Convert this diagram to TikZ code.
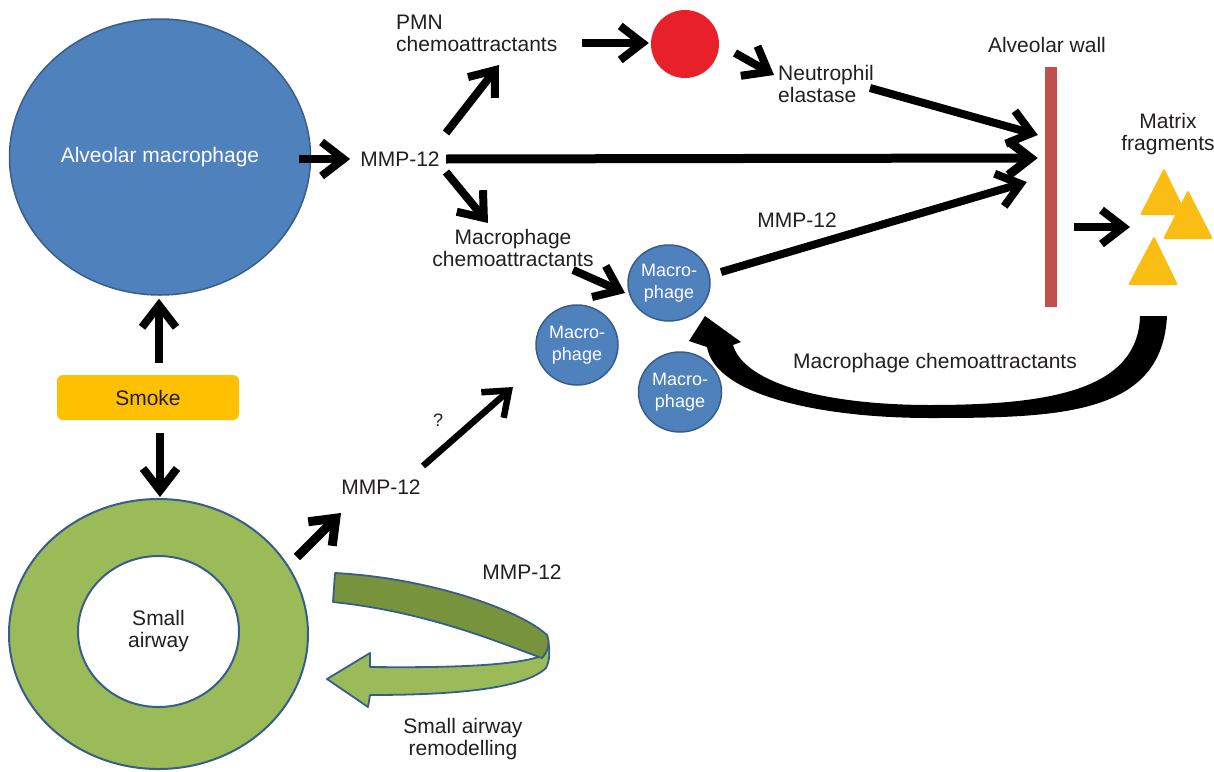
\documentclass[tikz,border=0pt]{standalone}
\usepackage{fontspec}
\setmainfont{Liberation Sans}
\usetikzlibrary{arrows.meta,shapes.geometric,calc}
\definecolor{cblue}{HTML}{4F81BD}
\definecolor{cbluedk}{HTML}{385D8A}
\definecolor{cred}{HTML}{E8202A}
\definecolor{cgreen}{HTML}{9BBB59}
\definecolor{cgreendk}{HTML}{77933C}
\definecolor{cyellow}{HTML}{FFC000}
\definecolor{ctri}{HTML}{FABD14}
\definecolor{cwall}{HTML}{C0504D}
\definecolor{ctext}{HTML}{231F20}
\begin{document}
\begin{tikzpicture}[x=1pt,y=-1pt,
  txt/.style={inner sep=0pt, text=ctext, font=\fontsize{21}{22}\selectfont},
  cell/.style={ellipse, draw=cbluedk, line width=1.5pt, fill=cblue, inner sep=0pt, text=white, align=center},
  smallcell/.style={cell, font=\fontsize{18}{22}\selectfont},
  arr/.style={line width=8pt, -{Straight Barb[length=22pt,width=34pt]}},
  tri/.style={fill=ctri, rounded corners=1.5pt}]
\fill[white] (0,0) rectangle (1214,771);
\useasboundingbox (0,0) rectangle (1214,771);

% main nodes
\node[cell, minimum width=301pt, minimum height=276pt, font=\fontsize{21}{22}\selectfont] (am) at (160,157) {Alveolar macrophage};
\node[rectangle, rounded corners=6pt, fill=cyellow, minimum width=182pt, minimum height=45pt, txt] (smoke) at (148,397.5) {Smoke};
\node[ellipse, draw=cbluedk, line width=2pt, fill=cgreen, minimum width=299pt, minimum height=270pt] (ring) at (158.5,634) {};
\node[ellipse, draw=cbluedk, line width=2pt, fill=white, minimum width=161pt, minimum height=151pt, txt, align=center] (lumen) at (158.5,631.5) {Small\\airway};

\node[txt] (mmp1) at (400,159) {MMP-12};
\node[txt, anchor=west, align=left] (pmn) at (396,33) {PMN\\chemoattractants};
\node[circle, fill=cred, minimum size=68pt, inner sep=0pt] (red) at (685,44) {};
\node[txt, anchor=west, align=left] (ne) at (778,84) {Neutrophil\\elastase};
\node[fill=cwall, minimum width=12pt, minimum height=240pt, inner sep=0pt] (wall) at (1051,187) {};
\node[txt] (awl) at (1047,45) {Alveolar wall};
\node[txt, align=center] (mf) at (1168,134) {Matrix\\fragments};
\node[txt, align=center] (mc) at (513,248) {Macrophage\\chemoattractants};

\node[smallcell, minimum width=82pt, minimum height=76pt] (m1) at (669,283) {Macro-\\phage};
\node[smallcell, minimum width=82pt, minimum height=80pt] (m2) at (577,345) {Macro-\\phage};
\node[smallcell, minimum width=83pt, minimum height=80pt] (m3) at (680,392) {Macro-\\phage};

\node[txt] (mmp2) at (797,220) {MMP-12};
\node[txt] (mcl) at (935,363) {Macrophage chemoattractants};
\node[txt] (mmp3) at (381,487) {MMP-12};
\node[txt, font=\fontsize{18}{22}\selectfont] (q) at (438,420) {?};
\node[txt] (mmp4) at (522,572) {MMP-12};
\node[txt, align=center] (sar) at (463,739) {Small airway\\remodelling};

% matrix fragments
\fill[tri] (1164,168) -- (1187,215) -- (1140,215) -- cycle;
\fill[tri] (1188,190) -- (1213,239) -- (1163,239) -- cycle;
\fill[tri] (1154,236) -- (1178,285) -- (1128,285) -- cycle;
\coordinate (trig) at (1160,227);

% arrows
\draw[arr] ($(am.east)+(-12,2)$) -- ($(mmp1.west)+(-10,0)$);
\draw[arr] ($(mmp1.center)+(46,-26)$) -- ($(pmn.west)+(103,32)$);
\draw[arr, line width=9pt] ($(mmp1.center)+(46,0)$) -- ($(wall.west)+(-7,-29)$);
\draw[arr] ($(mmp1.center)+(46,13)$) -- ($(mc.center)+(-25,-25)$);
\draw[arr] ($(pmn.west)+(186,10)$) -- ($(red.west)+(-2,-1)$);
\draw[arr] ($(red.center)+(50,9)$) -- ($(ne.west)+(-4,-9)$);
\draw[arr] ($(ne.west)+(92,4)$) -- ($(wall.west)+(-7,-52)$);
\draw[arr] ($(mc.center)+(60,22)$) -- ($(m1.center)+(-44,10)$);
\draw[arr] ($(m1.center)+(52,-11)$) -- ($(wall.west)+(-18,-5)$);
\draw[arr] ($(wall.east)+(17,40)$) -- ($(trig)+(-30,0)$);
\draw[arr] ($(smoke.north)+(11,-12)$) -- ($(am.south)+(-1,3)$);
\draw[arr] ($(smoke.south)+(12,13)$) -- ($(ring.north)+(1.5,-1)$);
\draw[arr, line width=9pt] ($(ring.center)+(138.5,-77)$) -- ($(mmp3.center)+(-40,26)$);
\draw[arr, line width=6.5pt] ($(mmp3.center)+(42,-21)$) -- ($(m2.center)+(-64,42)$);

% curved thick arrow back to macrophage
\fill[black] (1140,316) -- (1167,316) .. controls (1162,415) and (1060,418) .. (930,418)
  .. controls (820,418) and (715,395) .. (707,347) -- (689,341) -- (705,316) -- (741,342) -- (733,345)
  .. controls (745,385) and (830,405) .. (930,405) .. controls (1050,405) and (1138,390) .. (1140,316) -- cycle;

% ribbon arrow (small airway remodelling)
\filldraw[fill=cgreen, draw=cbluedk, line width=1.8pt, line join=round]
  (542,656) .. controls (515,665) and (460,668) .. (370,667) -- (370,653) -- (327,679) -- (368,707) -- (370,695)
  .. controls (460,695) and (525,688) .. (546,668) .. controls (550,660) and (550,650) .. (548,640) -- cycle;
\filldraw[fill=cgreendk, draw=cbluedk, line width=1.8pt, line join=round]
  (335,573) .. controls (430,578) and (520,610) .. (547,635) .. controls (550,643) and (549,650) .. (542,658)
  .. controls (505,645) and (430,612) .. (333,602) -- cycle;
\end{tikzpicture}
\end{document}
